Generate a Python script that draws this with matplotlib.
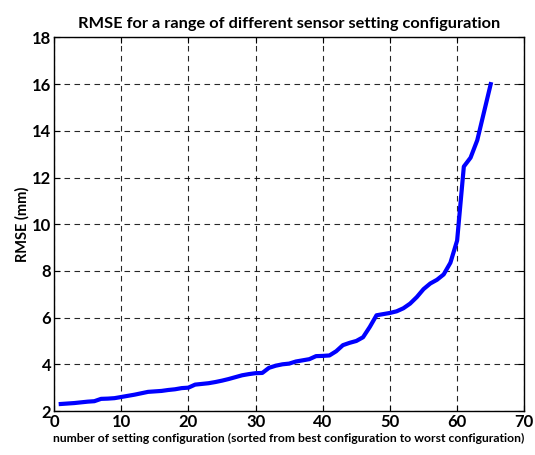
import matplotlib
matplotlib.use("Agg")
import matplotlib.pyplot as plt
import numpy as np

x_vals = list(range(1, 66))
rmse = [2.30, 2.32, 2.34, 2.37, 2.40, 2.42, 2.52, 2.53, 2.55, 2.60,
        2.65, 2.70, 2.76, 2.82, 2.84, 2.86, 2.90, 2.93, 2.98, 3.00,
        3.13, 3.16, 3.19, 3.24, 3.30, 3.37, 3.45, 3.53, 3.58, 3.62,
        3.63, 3.85, 3.94, 4.00, 4.03, 4.12, 4.17, 4.22, 4.35, 4.36,
        4.38, 4.56, 4.82, 4.92, 5.00, 5.16, 5.60, 6.10, 6.15, 6.20,
        6.27, 6.40, 6.60, 6.88, 7.22, 7.46, 7.62, 7.85, 8.35, 9.30,
        12.47, 12.85, 13.60, 14.80, 16.00]
x_ticks = [0, 10, 20, 30, 40, 50, 60, 70]
y_ticks = [2, 4, 6, 8, 10, 12, 14, 16, 18]

plt.rcParams['font.family'] = ['Lato', 'DejaVu Sans']
plt.rcParams['font.weight'] = 'bold'

fig = plt.figure(figsize=(5.35, 4.55), dpi=100)
ax = fig.add_axes([0.101, 0.0967, 0.879, 0.821])
ax.plot(x_vals, rmse, color=(0, 0, 1), linewidth=3.0, solid_joinstyle='round')
ax.set_xlim(0, 70)
ax.set_ylim(2, 18)
ax.set_xticks(x_ticks)
ax.set_yticks(y_ticks)
ax.tick_params(direction='in', top=True, right=True, length=4, width=0.8,
               labelsize=12, pad=2)
for lab in ax.get_xticklabels() + ax.get_yticklabels():
    lab.set_fontweight('bold')
ax.grid(True, color='black', linestyle=(0, (5, 4)), linewidth=0.8, alpha=0.85)
for s in ax.spines.values():
    s.set_linewidth(1.0)
ax.set_title('RMSE for a range of different sensor setting configuration',
             fontsize=11.8, fontweight='bold', pad=7)
ax.set_xlabel('number of setting configuration (sorted from best configuration to worst configuration)',
              fontsize=8.7, fontweight='bold', labelpad=2)
ax.set_ylabel('RMSE (mm)', fontsize=10.5, fontweight='bold', labelpad=2)
fig.savefig('out.png', dpi=100)
